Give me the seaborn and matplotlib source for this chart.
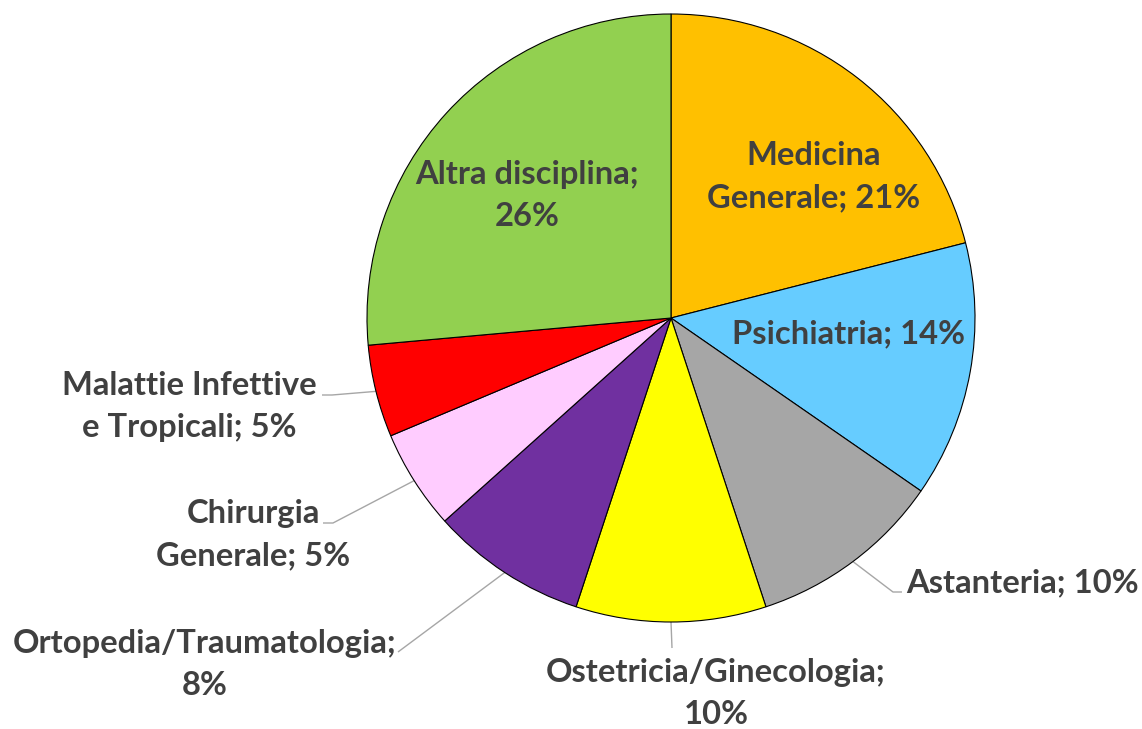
import numpy as np
import matplotlib
matplotlib.use("Agg")
import matplotlib.pyplot as plt
import seaborn as sns

# Share of respondents by discipline (%), clockwise from 12 o'clock
categories = [
    "Medicina\nGenerale",
    "Psichiatria",
    "Astanteria",
    "Ostetricia/Ginecologia;\n",
    "Ortopedia/Traumatologia;\n",
    "Chirurgia\nGenerale",
    "Malattie Infettive\ne Tropicali",
    "Altra disciplina;\n",
]
values = [21.0, 13.6, 10.3, 10.1, 8.3, 5.3, 4.9, 26.4]
colors = ["#FFC000", "#66CCFF", "#A6A6A6", "#FFFF00",
          "#7030A0", "#FFCCFF", "#FF0000", "#92D050"]

sns.set_theme(style="white")
plt.rcParams["font.family"] = ["Lato", "DejaVu Sans"]

W, H = 1142, 729
fig = plt.figure(figsize=(W / 100, H / 100), dpi=100)
ax = fig.add_axes([0, 0, 1, 1])

# pixel-like coordinates: y measured upward from the bottom edge
cx, cy, R = 671, H - 318, 304
wedges, _ = ax.pie(values, colors=colors, startangle=90, counterclock=False,
                   center=(cx, cy), radius=R,
                   wedgeprops=dict(edgecolor="black", linewidth=0.8))
ax.set_xlim(0, W)
ax.set_ylim(0, H)
ax.set_aspect("auto")
ax.axis("off")

TXT = "#404040"
FS = 23.6
LINE = 42

def label_text(cat, v):
    pct = f"{v:.0f}%"
    if cat.endswith("\n"):
        return cat + pct
    return cat + "; " + pct

# text placement: (x, baseline of first line in px from top, ha)
layout = [
    (814, 165, "center"),
    (848, 343, "center"),
    (906, 592, "left"),
    (716, 682, "center"),
    (205, 653, "center"),
    (253, 523, "center"),
    (189, 395, "center"),
    (527, 184, "center"),
]

# leader lines for the outside labels: index -> path after the edge point
leaders = {
    2: [(893, 592), (902, 592)],
    3: [(672, 648)],
    4: [(398, 652)],
    5: [(333, 523), (323, 523)],
    6: [(332, 395), (322, 395)],
}

for i, (w, cat, v) in enumerate(zip(wedges, categories, values)):
    lines = label_text(cat, v).split("\n")
    x, yb, ha = layout[i]
    for k, ln in enumerate(lines):
        ax.text(x, H - (yb + k * LINE), ln, ha=ha, va="baseline",
                fontsize=FS, fontweight="bold", color=TXT)
    if i in leaders:
        mid = np.deg2rad((w.theta1 + w.theta2) / 2)
        pts = [(cx + R * np.cos(mid), cy + R * np.sin(mid))]
        pts += [(px, H - py) for px, py in leaders[i]]
        xs, ys = zip(*pts)
        ax.plot(xs, ys, color="#A6A6A6", linewidth=1.0,
                solid_capstyle="butt", zorder=0)

fig.savefig("out.png", dpi=100, facecolor="white")
